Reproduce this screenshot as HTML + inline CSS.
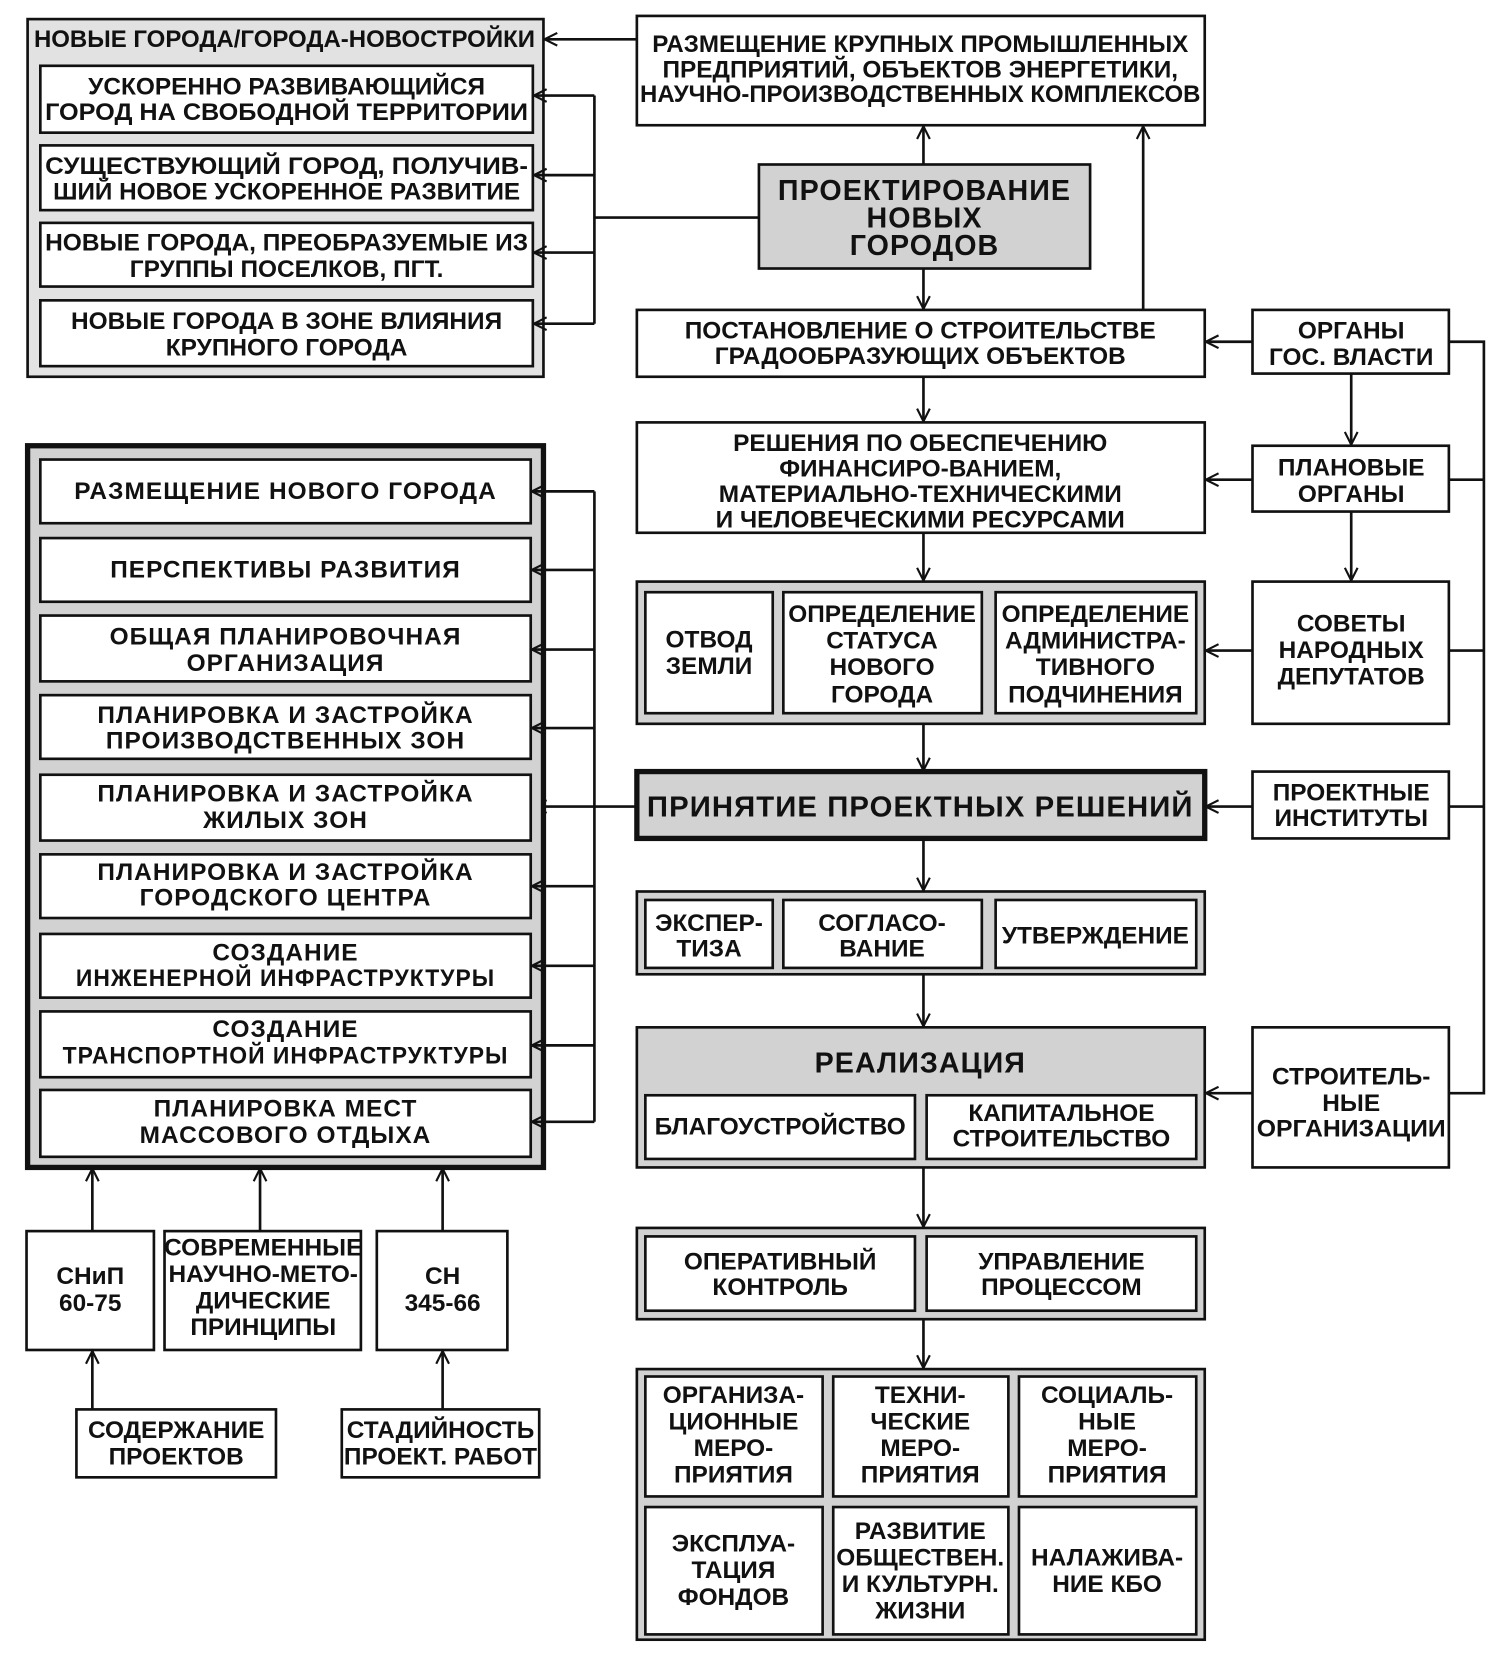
<!DOCTYPE html>
<html><head><meta charset="utf-8"><style>
html,body{margin:0;padding:0;background:#fff;}
svg{display:block;}
text{font-family:"Liberation Sans Narrow","Liberation Sans","DejaVu Sans Condensed",sans-serif;font-weight:bold;font-size:23px;fill:#111;text-anchor:middle;dominant-baseline:central;}
.w{font-family:"Liberation Sans","DejaVu Sans",sans-serif;font-size:23px;letter-spacing:1px;}
.big{font-family:"Liberation Sans","DejaVu Sans",sans-serif;font-size:27px;letter-spacing:1px;}
.b{fill:#fff;stroke:#111;stroke-width:2.5;}
.g{fill:#d2d2d2;stroke:#111;stroke-width:2.5;}
.g2{fill:#e2e2e2;stroke:#111;stroke-width:2.5;}
.l{stroke:#111;stroke-width:2.5;fill:none;}
</style></head><body>
<svg width="1503" height="1662" viewBox="0 0 1416 1566" preserveAspectRatio="none" xmlns="http://www.w3.org/2000/svg">
<defs><marker id="a" markerUnits="userSpaceOnUse" markerWidth="16" markerHeight="16" refX="13" refY="7" orient="auto"><path d="M1,1 L13,7 L1,13" fill="none" stroke="#111" stroke-width="2"/></marker></defs>

<!-- top-left group -->
<rect class="g2" x="26" y="18" width="486" height="337"/>
<text x="268" y="37" textLength="472" lengthAdjust="spacingAndGlyphs">НОВЫЕ ГОРОДА/ГОРОДА-НОВОСТРОЙКИ</text>
<rect class="b" x="38" y="62" width="464" height="63"/>
<text x="270" y="82">УСКОРЕННО РАЗВИВАЮЩИЙСЯ</text><text x="270" y="106" textLength="455" lengthAdjust="spacingAndGlyphs">ГОРОД НА СВОБОДНОЙ ТЕРРИТОРИИ</text>
<rect class="b" x="38" y="137" width="464" height="61"/>
<text x="270" y="157" textLength="455" lengthAdjust="spacingAndGlyphs">СУЩЕСТВУЮЩИЙ ГОРОД, ПОЛУЧИВ-</text><text x="270" y="181" textLength="440" lengthAdjust="spacingAndGlyphs">ШИЙ НОВОЕ УСКОРЕННОЕ РАЗВИТИЕ</text>
<rect class="b" x="38" y="210" width="464" height="60"/>
<text x="270" y="229" textLength="455" lengthAdjust="spacingAndGlyphs">НОВЫЕ ГОРОДА, ПРЕОБРАЗУЕМЫЕ ИЗ</text><text x="270" y="254">ГРУППЫ ПОСЕЛКОВ, ПГТ.</text>
<rect class="b" x="38" y="283" width="464" height="62"/>
<text x="270" y="303">НОВЫЕ ГОРОДА В ЗОНЕ ВЛИЯНИЯ</text><text x="270" y="328">КРУПНОГО ГОРОДА</text>
<path class="l" d="M560,90 V305 M715,205 H560"/>
<line class="l" x1="560" y1="90" x2="503" y2="90" marker-end="url(#a)"/>
<line class="l" x1="560" y1="165" x2="503" y2="165" marker-end="url(#a)"/>
<line class="l" x1="560" y1="238" x2="503" y2="238" marker-end="url(#a)"/>
<line class="l" x1="560" y1="305" x2="503" y2="305" marker-end="url(#a)"/>
<line class="l" x1="600" y1="37" x2="513" y2="37" marker-end="url(#a)"/>

<!-- top right -->
<rect class="b" x="600" y="15" width="535" height="103"/>
<text x="867" y="42" textLength="505" lengthAdjust="spacingAndGlyphs">РАЗМЕЩЕНИЕ КРУПНЫХ ПРОМЫШЛЕННЫХ</text>
<text x="867" y="66">ПРЕДПРИЯТИЙ, ОБЪЕКТОВ ЭНЕРГЕТИКИ,</text>
<text x="867" y="89" textLength="528" lengthAdjust="spacingAndGlyphs">НАУЧНО-ПРОИЗВОДСТВЕННЫХ КОМПЛЕКСОВ</text>
<rect class="g" x="715" y="155" width="312" height="98"/>
<text class="big" x="871" y="180">ПРОЕКТИРОВАНИЕ</text><text class="big" x="871" y="206">НОВЫХ</text><text class="big" x="871" y="232">ГОРОДОВ</text>
<line class="l" x1="870" y1="155" x2="870" y2="119" marker-end="url(#a)"/>
<line class="l" x1="870" y1="253" x2="870" y2="291" marker-end="url(#a)"/>
<line class="l" x1="1077" y1="292" x2="1077" y2="119" marker-end="url(#a)"/>
<rect class="b" x="600" y="292" width="535" height="63"/>
<text x="867" y="312">ПОСТАНОВЛЕНИЕ О СТРОИТЕЛЬСТВЕ</text><text x="867" y="336">ГРАДООБРАЗУЮЩИХ ОБЪЕКТОВ</text>
<rect class="b" x="1180" y="292" width="185" height="60"/>
<text x="1273" y="312">ОРГАНЫ</text><text x="1273" y="337">ГОС. ВЛАСТИ</text>
<line class="l" x1="1180" y1="322" x2="1136" y2="322" marker-end="url(#a)"/>
<path class="l" d="M1365,322 H1398 V1030 H1365 M1365,452 H1398 M1365,613 H1398 M1365,760 H1398"/>
<line class="l" x1="1273" y1="352" x2="1273" y2="419" marker-end="url(#a)"/>
<line class="l" x1="870" y1="355" x2="870" y2="397" marker-end="url(#a)"/>

<rect class="b" x="600" y="398" width="535" height="104"/>
<text x="867" y="418">РЕШЕНИЯ ПО ОБЕСПЕЧЕНИЮ</text><text x="867" y="442">ФИНАНСИРО-ВАНИЕМ,</text>
<text x="867" y="466">МАТЕРИАЛЬНО-ТЕХНИЧЕСКИМИ</text><text x="867" y="490">И ЧЕЛОВЕЧЕСКИМИ РЕСУРСАМИ</text>
<rect class="b" x="1180" y="420" width="185" height="62"/>
<text x="1273" y="441">ПЛАНОВЫЕ</text><text x="1273" y="466">ОРГАНЫ</text>
<line class="l" x1="1180" y1="452" x2="1136" y2="452" marker-end="url(#a)"/>
<line class="l" x1="1273" y1="482" x2="1273" y2="547" marker-end="url(#a)"/>
<line class="l" x1="870" y1="502" x2="870" y2="547" marker-end="url(#a)"/>

<rect class="g" x="600" y="548" width="535" height="134"/>
<rect class="b" x="608" y="558" width="120" height="114"/>
<rect class="b" x="738" y="558" width="187" height="114"/>
<rect class="b" x="938" y="558" width="189" height="114"/>
<text x="668" y="603">ОТВОД</text><text x="668" y="628">ЗЕМЛИ</text>
<text x="831" y="579">ОПРЕДЕЛЕНИЕ</text><text x="831" y="604">СТАТУСА</text><text x="831" y="629">НОВОГО</text><text x="831" y="655">ГОРОДА</text>
<text x="1032" y="579">ОПРЕДЕЛЕНИЕ</text><text x="1032" y="604">АДМИНИСТРА-</text><text x="1032" y="629">ТИВНОГО</text><text x="1032" y="655">ПОДЧИНЕНИЯ</text>
<rect class="b" x="1180" y="548" width="185" height="134"/>
<text x="1273" y="588">СОВЕТЫ</text><text x="1273" y="613">НАРОДНЫХ</text><text x="1273" y="638">ДЕПУТАТОВ</text>
<line class="l" x1="1180" y1="613" x2="1136" y2="613" marker-end="url(#a)"/>
<line class="l" x1="870" y1="682" x2="870" y2="726" marker-end="url(#a)"/>

<rect class="g" x="600" y="727" width="535" height="63" style="stroke-width:5"/>
<text class="big" x="867" y="761" textLength="515" lengthAdjust="spacingAndGlyphs">ПРИНЯТИЕ ПРОЕКТНЫХ РЕШЕНИЙ</text>
<rect class="b" x="1180" y="727" width="185" height="63"/>
<text x="1273" y="747">ПРОЕКТНЫЕ</text><text x="1273" y="771">ИНСТИТУТЫ</text>
<line class="l" x1="1180" y1="760" x2="1136" y2="760" marker-end="url(#a)"/>
<line class="l" x1="600" y1="760" x2="503" y2="760" marker-end="url(#a)"/>
<line class="l" x1="870" y1="790" x2="870" y2="839" marker-end="url(#a)"/>

<rect class="g" x="600" y="840" width="535" height="78"/>
<rect class="b" x="608" y="848" width="120" height="64"/>
<rect class="b" x="738" y="848" width="187" height="64"/>
<rect class="b" x="938" y="848" width="189" height="64"/>
<text x="668" y="870">ЭКСПЕР-</text><text x="668" y="894">ТИЗА</text>
<text x="831" y="870">СОГЛАСО-</text><text x="831" y="894">ВАНИЕ</text>
<text x="1032" y="882">УТВЕРЖДЕНИЕ</text>
<line class="l" x1="870" y1="918" x2="870" y2="967" marker-end="url(#a)"/>

<rect class="g" x="600" y="968" width="535" height="132"/>
<text class="big" x="867" y="1002">РЕАЛИЗАЦИЯ</text>
<rect class="b" x="608" y="1032" width="254" height="60"/>
<rect class="b" x="873" y="1032" width="254" height="60"/>
<text x="735" y="1062">БЛАГОУСТРОЙСТВО</text>
<text x="1000" y="1049">КАПИТАЛЬНОЕ</text><text x="1000" y="1073">СТРОИТЕЛЬСТВО</text>
<rect class="b" x="1180" y="968" width="185" height="132"/>
<text x="1273" y="1015">СТРОИТЕЛЬ-</text><text x="1273" y="1040">НЫЕ</text><text x="1273" y="1064" textLength="178" lengthAdjust="spacingAndGlyphs">ОРГАНИЗАЦИИ</text>
<line class="l" x1="1180" y1="1030" x2="1136" y2="1030" marker-end="url(#a)"/>
<line class="l" x1="870" y1="1100" x2="870" y2="1156" marker-end="url(#a)"/>

<rect class="g" x="600" y="1157" width="535" height="86"/>
<rect class="b" x="608" y="1165" width="254" height="70"/>
<rect class="b" x="873" y="1165" width="254" height="70"/>
<text x="735" y="1189">ОПЕРАТИВНЫЙ</text><text x="735" y="1213">КОНТРОЛЬ</text>
<text x="1000" y="1189">УПРАВЛЕНИЕ</text><text x="1000" y="1213">ПРОЦЕССОМ</text>
<line class="l" x1="870" y1="1243" x2="870" y2="1289" marker-end="url(#a)"/>

<rect class="g" x="600" y="1290" width="535" height="255"/>
<rect class="b" x="608" y="1297" width="167" height="113"/>
<rect class="b" x="785" y="1297" width="165" height="113"/>
<rect class="b" x="960" y="1297" width="167" height="113"/>
<rect class="b" x="608" y="1420" width="167" height="120"/>
<rect class="b" x="785" y="1420" width="165" height="120"/>
<rect class="b" x="960" y="1420" width="167" height="120"/>
<text x="691" y="1315">ОРГАНИЗА-</text><text x="691" y="1340">ЦИОННЫЕ</text><text x="691" y="1365">МЕРО-</text><text x="691" y="1390">ПРИЯТИЯ</text>
<text x="867" y="1315">ТЕХНИ-</text><text x="867" y="1340">ЧЕСКИЕ</text><text x="867" y="1365">МЕРО-</text><text x="867" y="1390">ПРИЯТИЯ</text>
<text x="1043" y="1315">СОЦИАЛЬ-</text><text x="1043" y="1340">НЫЕ</text><text x="1043" y="1365">МЕРО-</text><text x="1043" y="1390">ПРИЯТИЯ</text>
<text x="691" y="1455">ЭКСПЛУА-</text><text x="691" y="1480">ТАЦИЯ</text><text x="691" y="1505">ФОНДОВ</text>
<text x="867" y="1443">РАЗВИТИЕ</text><text x="867" y="1468">ОБЩЕСТВЕН.</text><text x="867" y="1493">И КУЛЬТУРН.</text><text x="867" y="1518">ЖИЗНИ</text>
<text x="1043" y="1468">НАЛАЖИВА-</text><text x="1043" y="1493">НИЕ КБО</text>

<!-- left big box -->
<rect class="g" x="26" y="420" width="486" height="680" style="stroke-width:5"/>
<rect class="b" x="38" y="433" width="462" height="60"/><text class="w" x="269" y="463">РАЗМЕЩЕНИЕ НОВОГО ГОРОДА</text>
<rect class="b" x="38" y="507" width="462" height="60"/><text class="w" x="269" y="537">ПЕРСПЕКТИВЫ РАЗВИТИЯ</text>
<rect class="b" x="38" y="580" width="462" height="62"/><text class="w" x="269" y="600">ОБЩАЯ ПЛАНИРОВОЧНАЯ</text><text class="w" x="269" y="625">ОРГАНИЗАЦИЯ</text>
<rect class="b" x="38" y="655" width="462" height="60"/><text class="w" x="269" y="674">ПЛАНИРОВКА И ЗАСТРОЙКА</text><text class="w" x="269" y="698">ПРОИЗВОДСТВЕННЫХ ЗОН</text>
<rect class="b" x="38" y="730" width="462" height="62"/><text class="w" x="269" y="748">ПЛАНИРОВКА И ЗАСТРОЙКА</text><text class="w" x="269" y="773">ЖИЛЫХ ЗОН</text>
<rect class="b" x="38" y="805" width="462" height="60"/><text class="w" x="269" y="822">ПЛАНИРОВКА И ЗАСТРОЙКА</text><text class="w" x="269" y="846">ГОРОДСКОГО ЦЕНТРА</text>
<rect class="b" x="38" y="880" width="462" height="60"/><text class="w" x="269" y="898">СОЗДАНИЕ</text><text class="w" x="269" y="922" textLength="395" lengthAdjust="spacingAndGlyphs">ИНЖЕНЕРНОЙ ИНФРАСТРУКТУРЫ</text>
<rect class="b" x="38" y="953" width="462" height="62"/><text class="w" x="269" y="970">СОЗДАНИЕ</text><text class="w" x="269" y="995" textLength="420" lengthAdjust="spacingAndGlyphs">ТРАНСПОРТНОЙ ИНФРАСТРУКТУРЫ</text>
<rect class="b" x="38" y="1027" width="462" height="63"/><text class="w" x="269" y="1045">ПЛАНИРОВКА МЕСТ</text><text class="w" x="269" y="1070">МАССОВОГО ОТДЫХА</text>
<path class="l" d="M560,463 V1057"/>
<line class="l" x1="560" y1="463" x2="501" y2="463" marker-end="url(#a)"/>
<line class="l" x1="560" y1="537" x2="501" y2="537" marker-end="url(#a)"/>
<line class="l" x1="560" y1="612" x2="501" y2="612" marker-end="url(#a)"/>
<line class="l" x1="560" y1="686" x2="501" y2="686" marker-end="url(#a)"/>
<line class="l" x1="560" y1="835" x2="501" y2="835" marker-end="url(#a)"/>
<line class="l" x1="560" y1="910" x2="501" y2="910" marker-end="url(#a)"/>
<line class="l" x1="560" y1="985" x2="501" y2="985" marker-end="url(#a)"/>
<line class="l" x1="560" y1="1057" x2="501" y2="1057" marker-end="url(#a)"/>

<!-- bottom left -->
<rect class="b" x="25" y="1160" width="120" height="112"/><text x="85" y="1203">СНиП</text><text x="85" y="1228">60-75</text>
<rect class="b" x="155" y="1160" width="185" height="112"/>
<text x="248" y="1176">СОВРЕМЕННЫЕ</text><text x="248" y="1201">НАУЧНО-МЕТО-</text><text x="248" y="1226">ДИЧЕСКИЕ</text><text x="248" y="1251">ПРИНЦИПЫ</text>
<rect class="b" x="355" y="1160" width="123" height="112"/><text x="417" y="1203">СН</text><text x="417" y="1228">345-66</text>
<line class="l" x1="87" y1="1160" x2="87" y2="1101" marker-end="url(#a)"/>
<line class="l" x1="245" y1="1160" x2="245" y2="1101" marker-end="url(#a)"/>
<line class="l" x1="417" y1="1160" x2="417" y2="1101" marker-end="url(#a)"/>
<rect class="b" x="72" y="1328" width="188" height="64"/><text x="166" y="1348">СОДЕРЖАНИЕ</text><text x="166" y="1373">ПРОЕКТОВ</text>
<rect class="b" x="322" y="1328" width="186" height="64"/><text x="415" y="1348">СТАДИЙНОСТЬ</text><text x="415" y="1373">ПРОЕКТ. РАБОТ</text>
<line class="l" x1="87" y1="1328" x2="87" y2="1273" marker-end="url(#a)"/>
<line class="l" x1="417" y1="1328" x2="417" y2="1273" marker-end="url(#a)"/>
</svg>
</body></html>
